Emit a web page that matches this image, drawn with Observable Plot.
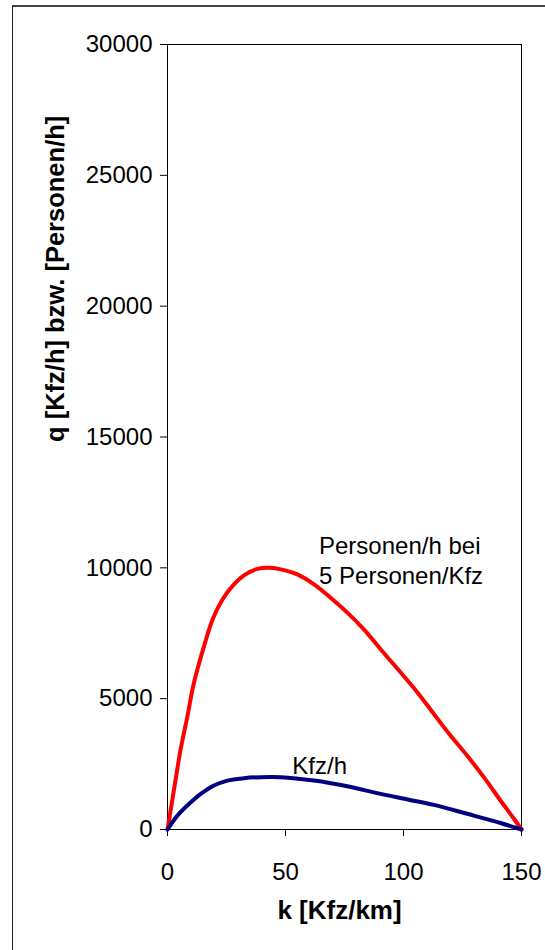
<!DOCTYPE html>
<html>
<head>
<meta charset="utf-8">
<script src="https://cdn.jsdelivr.net/npm/d3@7"></script>
<script src="https://cdn.jsdelivr.net/npm/@observablehq/plot@0.6"></script>
<style>
  html, body { margin: 0; padding: 0; background: #fff; }
  #wrap { position: relative; width: 545px; height: 950px; overflow: hidden; }
  #outer { position: absolute; left: 12px; top: 5px; width: 600px; height: 1000px;
           border-top: 2px solid #444; border-left: 1px solid #222; box-sizing: border-box; }
  #chart { position: absolute; left: 0; top: 0; }
</style>
</head>
<body>
<div id="wrap"><div id="outer"></div><div id="chart"></div></div>
<script>
// Personen/h bei 5 Personen/Kfz (red)
const kRed = [0, 2.8, 5.6, 8.5, 10.6, 12.7, 15.5, 19.1, 23.3, 27.5, 32.4, 38.1, 43.7, 48, 55, 62.1, 69.1, 76.2, 83.2, 90.3, 105.9, 112.9, 120, 127, 134.1, 141.1, 146.8, 150];
const qRed = [0, 1550, 3080, 4350, 5360, 6130, 7010, 8030, 8790, 9300, 9710, 9960, 10000, 9940, 9750, 9370, 8860, 8290, 7650, 6890, 5240, 4410, 3580, 2820, 1990, 1110, 410, 0];
// Kfz/h (navy)
const kBlue = [0, 4.2, 9.9, 14.1, 19.7, 25.4, 32.4, 39.5, 48, 62.1, 76.2, 90.3, 102.3, 112.9, 127, 141.1, 150];
const qBlue = [0, 530, 1040, 1360, 1680, 1870, 1960, 2000, 2000, 1870, 1650, 1360, 1140, 940, 600, 250, 0];

const xTicks = [0, 50, 100, 150];
const yTicks = [0, 5000, 10000, 15000, 20000, 25000, 30000];
const xTitle = "k [Kfz/km]";
const yTitle = "q [Kfz/h] bzw. [Personen/h]";
const labels = [
  {k: 64.2, q: 10330, text: "Personen/h bei\n5 Personen/Kfz"},
  {k: 52.9, q: 2500, text: "Kfz/h"}
];

const red = kRed.map((k, i) => ({k, q: qRed[i]}));
const blue = kBlue.map((k, i) => ({k, q: qBlue[i]}));

const chart = Plot.plot({
  width: 545,
  height: 950,
  marginLeft: 167,
  marginRight: 24,
  marginTop: 44,
  marginBottom: 121,
  style: {fontFamily: "'Liberation Sans', Arial, sans-serif", fontSize: "24px", color: "#000", background: "transparent"},
  x: {domain: [0, 150]},
  y: {domain: [0, 30000]},
  marks: [
    Plot.frame({stroke: "#000", strokeWidth: 1}),
    Plot.axisX({ticks: xTicks, tickSize: 7, tickPadding: 26, tickFormat: d => String(d), label: null, fontSize: 24, stroke: "#000"}),
    Plot.axisY({ticks: yTicks, tickSize: 7, tickPadding: 8, tickFormat: d => String(d), label: null, fontSize: 24, stroke: "#000"}),
    Plot.line(red, {x: "k", y: "q", stroke: "#FF0000", strokeWidth: 4, curve: "catmull-rom"}),
    Plot.line(blue, {x: "k", y: "q", stroke: "#000080", strokeWidth: 4, curve: "catmull-rom"}),
    Plot.text(labels, {x: "k", y: "q", text: "text", textAnchor: "start", lineAnchor: "middle", lineHeight: 1.25, fontSize: 24, fill: "#000"}),
    Plot.text([xTitle], {frameAnchor: "bottom", dy: 89, dx: -5, fontSize: 26, fontWeight: "bold", fill: "#000"}),
    Plot.text([yTitle], {frameAnchor: "left", dx: -112, dy: 5, rotate: -90, fontSize: 25.5, fontWeight: "bold", fill: "#000"})
  ]
});
document.getElementById("chart").appendChild(chart);
</script>
</body>
</html>
